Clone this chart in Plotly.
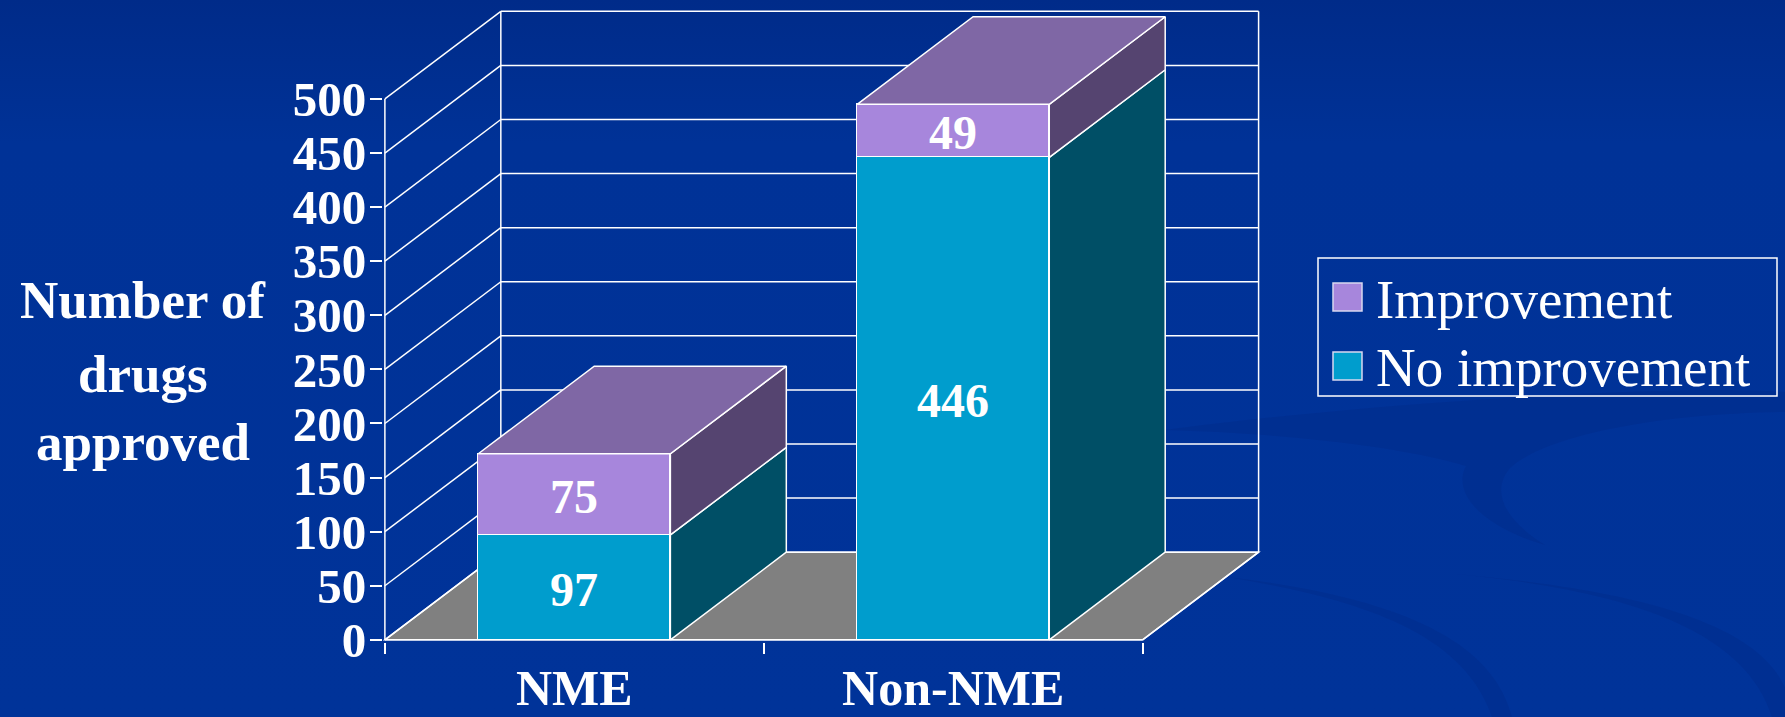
import base64
import plotly.graph_objects as go

# ---- data -------------------------------------------------------------
CATEGORIES = ["NME", "Non-NME"]
NO_IMPROVEMENT = [97, 446]
IMPROVEMENT = [75, 49]
SERIES_NAMES = ["Improvement", "No improvement"]
Y_TICKS = [0, 50, 100, 150, 200, 250, 300, 350, 400, 450, 500]
Y_TITLE_LINES = ["Number of", "drugs", "approved"]

# ---- style ------------------------------------------------------------
BG = "#003399"
WHITE = "#FFFFFF"
C_NOIMP = "#009DCD"
C_NOIMP_SIDE = "#004F66"
C_IMP = "#A786DC"
C_IMP_SIDE = "#554470"
C_IMP_TOP = "#7F67A5"
FLOOR = "#808080"
FONT = "Liberation Serif"
LW = 1.5

# oblique projection: depth offset expressed in axis units
BAR_W = 0.507
DEPTH_X = 0.306
DEPTH_Y = 81
X_RANGE = [-0.005, 2.315]
Y_RANGE = [-2, 585]

W, H = 1785, 717
MARGIN = dict(l=383, r=523, t=7, b=75)
PLOT_W = W - MARGIN["l"] - MARGIN["r"]
PLOT_H = H - MARGIN["t"] - MARGIN["b"]


def px(x):
    return (x - MARGIN["l"]) / PLOT_W


def py(y):
    return (H - MARGIN["b"] - y) / PLOT_H


# slide backdrop: soft top shading and faint swooshes
BACKDROP_SVG = f"""<svg xmlns='http://www.w3.org/2000/svg' width='{W}' height='{H}' viewBox='0 0 {W} {H}'>
<defs><linearGradient id='g' x1='0' y1='0' x2='0' y2='1'>
<stop offset='0' stop-color='#002B89'/><stop offset='0.2' stop-color='#003297'/>
<stop offset='1' stop-color='#003399'/></linearGradient></defs>
<rect width='{W}' height='{H}' fill='url(#g)'/>
<g fill='#002A88' fill-opacity='0.4'>
<path d='M 1165,430 C 1350,405 1650,384 1785,392 L 1785,412 C 1640,414 1540,440 1510,468
 C 1490,492 1505,520 1545,545 C 1480,526 1452,492 1466,466 C 1400,446 1280,433 1165,430 Z'/>
<path d='M 1228,577 C 1350,598 1462,628 1492,717 L 1512,717 C 1492,640 1400,598 1228,577 Z'/>
<path d='M 1455,574 C 1600,588 1742,620 1772,717 L 1785,717 L 1785,688 C 1758,624 1640,590 1455,574 Z'/>
</g></svg>"""
BACKDROP = "data:image/svg+xml;base64," + base64.b64encode(BACKDROP_SVG.encode()).decode()

n = len(CATEGORIES)
y_top = Y_TICKS[-1]
shapes = []
annotations = []


def seg(x0, y0, x1, y1):
    shapes.append(dict(type="line", xref="x", yref="y", x0=x0, y0=y0, x1=x1, y1=y1,
                       line=dict(color=WHITE, width=LW), layer="below"))


# floor
shapes.append(dict(type="path", xref="x", yref="y", layer="below",
                   path=f"M 0,0 L {n},0 L {n + DEPTH_X},{DEPTH_Y} L {DEPTH_X},{DEPTH_Y} Z",
                   fillcolor=FLOOR, line=dict(color=WHITE, width=LW)))
# back wall gridlines and side wall diagonals
for v in Y_TICKS:
    seg(DEPTH_X, v + DEPTH_Y, n + DEPTH_X, v + DEPTH_Y)
    seg(0, v, DEPTH_X, v + DEPTH_Y)
seg(DEPTH_X, DEPTH_Y, DEPTH_X, y_top + DEPTH_Y)
seg(n + DEPTH_X, DEPTH_Y, n + DEPTH_X, y_top + DEPTH_Y)
# front value axis and floor edges
seg(0, 0, 0, y_top)
seg(0, 0, n, 0)
seg(n, 0, n + DEPTH_X, DEPTH_Y)

fig = go.Figure()
xc = [i + 0.5 for i in range(n)]

# front faces
fig.add_trace(go.Bar(x=xc, y=NO_IMPROVEMENT, width=BAR_W, name=SERIES_NAMES[1],
                     marker=dict(color=C_NOIMP, line=dict(color=WHITE, width=LW)),
                     hoverinfo="skip"))
fig.add_trace(go.Bar(x=xc, y=IMPROVEMENT, width=BAR_W, name=SERIES_NAMES[0],
                     marker=dict(color=C_IMP, line=dict(color=WHITE, width=LW)),
                     hoverinfo="skip"))


def poly(xs, ys, color):
    fig.add_trace(go.Scatter(x=xs + xs[:1], y=ys + ys[:1], mode="lines", fill="toself",
                             fillcolor=color, line=dict(color=WHITE, width=LW),
                             hoverinfo="skip"))


# side and top faces
for i in range(n):
    x0 = xc[i] - BAR_W / 2
    x1 = xc[i] + BAR_W / 2
    b1 = NO_IMPROVEMENT[i]
    t1 = b1 + IMPROVEMENT[i]
    for lo, hi, col in ((0, b1, C_NOIMP_SIDE), (b1, t1, C_IMP_SIDE)):
        poly([x1, x1 + DEPTH_X, x1 + DEPTH_X, x1],
             [lo, lo + DEPTH_Y, hi + DEPTH_Y, hi], col)
    poly([x0, x1, x1 + DEPTH_X, x0 + DEPTH_X],
         [t1, t1, t1 + DEPTH_Y, t1 + DEPTH_Y], C_IMP_TOP)

# value labels, centred on each segment's front face
for i in range(n):
    for val, mid in ((NO_IMPROVEMENT[i], NO_IMPROVEMENT[i] / 2),
                     (IMPROVEMENT[i], NO_IMPROVEMENT[i] + IMPROVEMENT[i] / 2)):
        annotations.append(dict(xref="x", yref="y", x=xc[i], y=mid, text=str(val),
                                showarrow=False, yshift=-2,
                                font=dict(family=FONT, size=48, color=WHITE, weight="bold")))

# legend box
shapes.append(dict(type="rect", xref="paper", yref="paper",
                   x0=px(1318), x1=px(1777), y0=py(396), y1=py(258),
                   line=dict(color=WHITE, width=LW)))
for name, col, (sy0, sy1) in ((SERIES_NAMES[0], C_IMP, (283, 311)),
                              (SERIES_NAMES[1], C_NOIMP, (352, 380))):
    shapes.append(dict(type="rect", xref="paper", yref="paper",
                       x0=px(1333), x1=px(1362), y0=py(sy1), y1=py(sy0),
                       fillcolor=col, line=dict(color="#D8D8F0", width=LW)))
    annotations.append(dict(xref="paper", yref="paper", x=px(1374), y=py((sy0 + sy1) / 2 + 2),
                            text=name, showarrow=False, xanchor="left", yanchor="middle",
                            font=dict(family=FONT, size=55, color=WHITE)))

# value-axis title
for line, cy in zip(Y_TITLE_LINES, (300, 374, 442)):
    annotations.append(dict(xref="paper", yref="paper", x=px(143), y=py(cy), text=line,
                            showarrow=False, xanchor="center", yanchor="middle",
                            font=dict(family=FONT, size=53, color=WHITE, weight="bold")))

fig.update_layout(
    width=W, height=H, margin=MARGIN,
    paper_bgcolor=BG, plot_bgcolor="rgba(0,0,0,0)",
    barmode="stack", bargap=0, showlegend=False,
    shapes=shapes, annotations=annotations,
    images=[dict(source=BACKDROP, xref="paper", yref="paper", x=px(0), y=py(0),
                 sizex=W / PLOT_W, sizey=H / PLOT_H, xanchor="left", yanchor="top",
                 sizing="stretch", layer="below")],
    xaxis=dict(range=X_RANGE, tickmode="array", tickvals=xc, ticktext=CATEGORIES,
               ticks="", showgrid=False, zeroline=False, showline=False, automargin=False,
               tickfont=dict(family=FONT, size=50, color=WHITE, weight="bold"),
               ticklabelstandoff=12,
               minor=dict(tickmode="array", tickvals=list(range(n + 1)), ticks="outside",
                          ticklen=11, tickwidth=LW, tickcolor=WHITE, showgrid=False)),
    yaxis=dict(range=Y_RANGE, tickmode="array", tickvals=Y_TICKS, ticks="outside",
               ticklen=12, tickwidth=LW, tickcolor=WHITE, showgrid=False, zeroline=False,
               showline=False, ticklabelstandoff=-6, automargin=False,
               tickfont=dict(family=FONT, size=49, color=WHITE, weight="bold")),
)

fig.write_html("out.html")
